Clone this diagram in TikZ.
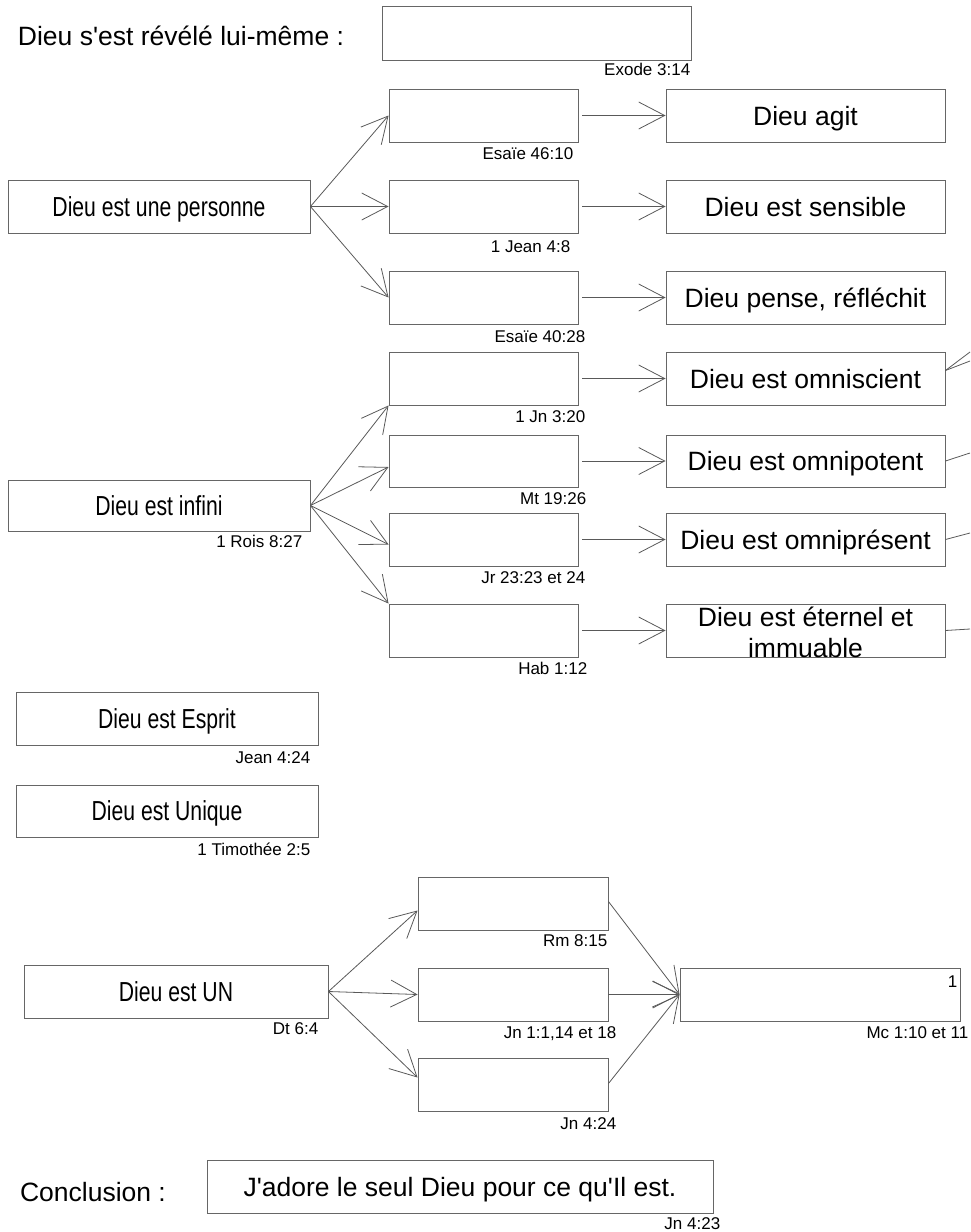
\documentclass[tikz,border=0pt]{standalone}
\usepackage{fontspec}
\setmainfont{Liberation Sans}[Ligatures=TeXOff]
\newfontfamily\narrowfont[FakeStretch=0.77, Ligatures=TeXOff]{Liberation Sans}
\usetikzlibrary{arrows.meta}

\begin{document}
\begin{tikzpicture}[x=1pt, y=-1pt,
        box/.style={draw=black!60, line width=0.9pt, inner sep=0pt, minimum height=53pt, text height=19pt, text depth=0pt, font=\fontsize{26.5}{31}\selectfont},
        lbox/.style={box, minimum width=302pt, font=\narrowfont\fontsize{27.5}{31}\selectfont},
        mbox/.style={box, minimum width=189pt},
        rbox/.style={box, minimum width=279pt},
        ubox/.style={box, minimum width=190pt},
        ref/.style={anchor=north east, inner sep=0pt, font=\fontsize{17}{20}\selectfont},
        big/.style={inner sep=0pt, font=\fontsize{26.5}{31}\selectfont},
        arr/.style={draw=black!65, line width=0.8pt, -{Straight Barb[length=26pt,width=27pt]}},
        lnk/.style={draw=black!65, line width=0.8pt}]
        \useasboundingbox (0,0) rectangle (970,1232);

        \node[big] (titre) at (181,36) {Dieu s'est révélé lui-même :};
        \node[box, minimum width=309pt, minimum height=54pt] (exode) at (536.5,33) {};
        \node[ref] (exoderef) at ([xshift=-1pt, yshift=-3pt]exode.south east) {Exode 3:14};

        \node[lbox] (personne) at (159,206.5) {Dieu est une personne};
        \node[mbox] (m1) at (483.5,115.5) {};
        \node[mbox] (m2) at (483.5,206.5) {};
        \node[mbox] (m3) at (483.5,297.5) {};
        \node[ref] (m1ref) at ([xshift=-5pt, yshift=-5pt]m1.south east) {Esaïe 46:10};
        \node[ref] (m2ref) at ([xshift=-8pt, yshift=-7pt]m2.south east) {1 Jean 4:8};
        \node[ref] (m3ref) at ([xshift=7pt, yshift=-6pt]m3.south east) {Esaïe 40:28};
        \node[rbox] (r1) at (805.5,115.5) {Dieu agit};
        \node[rbox] (r2) at (805.5,206.5) {Dieu est sensible};
        \node[rbox] (r3) at (805.5,297.5) {Dieu pense, réfléchit};

        \draw[arr] (personne.east) -- (m1.west);
        \draw[arr] (personne.east) -- (m2.west);
        \draw[arr] (personne.east) -- (m3.west);
        \draw[arr, shorten <=4pt] (m1.east) -- (r1.west);
        \draw[arr, shorten <=4pt] (m2.east) -- (r2.west);
        \draw[arr, shorten <=4pt] (m3.east) -- (r3.west);

        \node[lbox, minimum height=51pt] (infini) at (159,505.5) {Dieu est infini};
        \node[ref] (infiniref) at ([xshift=-8pt, yshift=-4pt]infini.south east) {1 Rois 8:27};
        \node[mbox] (m4) at (483.5,378.5) {};
        \node[mbox, minimum height=52pt] (m5) at (483.5,461) {};
        \node[mbox] (m6) at (483.5,539.5) {};
        \node[mbox] (m7) at (483.5,630.5) {};
        \node[ref] (m4ref) at ([xshift=7pt, yshift=-5pt]m4.south east) {1 Jn 3:20};
        \node[ref] (m5ref) at ([xshift=8pt, yshift=-5pt]m5.south east) {Mt 19:26};
        \node[ref] (m6ref) at ([xshift=7pt, yshift=-5pt]m6.south east) {Jr 23:23 et 24};
        \node[ref] (m7ref) at ([xshift=9pt, yshift=-5pt]m7.south east) {Hab 1:12};
        \node[rbox] (r4) at (805.5,378.5) {Dieu est omniscient};
        \node[rbox, minimum height=52pt] (r5) at (805.5,461) {Dieu est omnipotent};
        \node[rbox] (r6) at (805.5,539.5) {Dieu est omniprésent};
        \node[rbox, text height=0pt] (r7) at (805.5,630.5) {\smash{\raisebox{-12pt}{\begin{tabular}{@{}c@{}}Dieu est éternel et\\immuable\end{tabular}}}};

        \draw[arr] (infini.east) -- (m4.south west);
        \draw[arr] (infini.east) -- ([yshift=-6pt]m5.west);
        \draw[arr] (infini.east) -- ([yshift=-5pt]m6.west);
        \draw[arr] (infini.east) -- (m7.north west);
        \draw[arr, shorten <=4pt] (m4.east) -- (r4.west);
        \draw[arr, shorten <=4pt] (m5.east) -- (r5.west);
        \draw[arr, shorten <=4pt] (m6.east) -- (r6.west);
        \draw[arr, shorten <=4pt] (m7.east) -- (r7.west);

        \coordinate (bord4a) at (970,352);
        \coordinate (bord4b) at (970,361);
        \coordinate (bord5) at (970,453);
        \coordinate (bord6) at (970,533);
        \coordinate (bord7) at (970,629);
        \draw[lnk] ([yshift=8pt]r4.east) -- (bord4a);
        \draw[lnk] ([yshift=8pt]r4.east) -- (bord4b);
        \draw[lnk] (r5.east) -- (bord5);
        \draw[lnk] (r6.east) -- (bord6);
        \draw[lnk] (r7.east) -- (bord7);

        \node[lbox] (esprit) at (167,718.5) {Dieu est Esprit};
        \node[ref] (espritref) at ([xshift=-8pt, yshift=-6pt]esprit.south east) {Jean 4:24};
        \node[lbox, minimum height=52pt] (unique) at (167,811) {Dieu est Unique};
        \node[ref] (uniqueref) at ([xshift=-8pt, yshift=-5pt]unique.south east) {1 Timothée 2:5};

        \node[lbox, minimum width=304pt] (un) at (176,991.5) {Dieu est UN};
        \node[ref] (unref) at ([xshift=-10pt, yshift=-4pt]un.south east) {Dt 6:4};
        \node[ubox] (u1) at (513,903.5) {};
        \node[ubox] (u2) at (513,994.5) {};
        \node[ubox] (u3) at (513,1084.5) {};
        \node[ref] (u1ref) at ([xshift=-1pt, yshift=-4pt]u1.south east) {Rm 8:15};
        \node[ref] (u2ref) at ([xshift=8pt, yshift=-5pt]u2.south east) {Jn 1:1,14 et 18};
        \node[ref] (u3ref) at ([xshift=8pt, yshift=-6pt]u3.south east) {Jn 4:24};
        \node[box, minimum width=280pt] (fils) at (820,994.5) {};
        \node[ref] (filsun) at ([xshift=-3pt, yshift=-8pt]fils.north east) {1};
        \node[ref] (filsref) at ([xshift=8pt, yshift=-5pt]fils.south east) {Mc 1:10 et 11};

        \draw[arr] (un.east) -- ([yshift=-7pt]u1.west);
        \draw[arr] (un.east) -- (u2.west);
        \draw[arr] (un.east) -- ([yshift=7pt]u3.west);
        \draw[arr] ([yshift=2pt]u1.east) -- (fils.west);
        \draw[arr] (u2.east) -- (fils.west);
        \draw[arr] ([yshift=1pt]u3.east) -- (fils.west);

        \node[big] (concl) at (93,1192) {Conclusion :};
        \node[box, minimum width=506pt] (adore) at (460,1186.5) {J'adore le seul Dieu pour ce qu'Il est.};
        \node[ref] (adoreref) at ([xshift=7pt, yshift=-4pt]adore.south east) {Jn 4:23};
\end{tikzpicture}
\end{document}
